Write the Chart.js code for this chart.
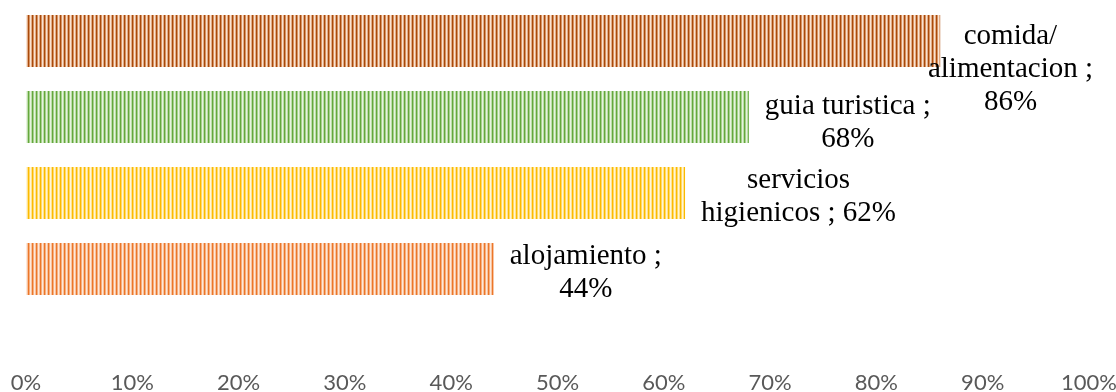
<!DOCTYPE html>
<html>
<head>
<meta charset="utf-8">
<script src="https://cdn.jsdelivr.net/npm/chart.js@4/dist/chart.umd.min.js"></script>
<style>
html,body{margin:0;padding:0;background:#fff;}
#wrap{width:1116px;height:392px;position:relative;}
</style>
</head>
<body>
<div id="wrap"><canvas id="c" width="1116" height="392"></canvas></div>
<script>
// Data
const categories = [["comida/", "alimentacion ;"], ["guia turistica ;"], ["servicios", "higienicos ;"], ["alojamiento ;"]];
const values = [86, 68, 62, 44];
const tickLabels = ["0%","10%","20%","30%","40%","50%","60%","70%","80%","90%","100%"];

// Styles
const palettes = [
  {dark:'#A9490A', mid:'#D07D43', light:'#F8E2D2'},
  {dark:'#64A83C', mid:'#96C878', light:'#E6F3DE'},
  {dark:'#FBBA00', mid:'#FFD24D', light:'#FFF5D6'},
  {dark:'#EC7628', mid:'#F4A068', light:'#FDE8DA'}
];
function stripe(p){
  const c = document.createElement('canvas');
  c.width = 4; c.height = 4;
  const x = c.getContext('2d');
  x.fillStyle = p.dark; x.fillRect(0,0,1.3,4);
  x.fillStyle = p.mid; x.fillRect(1.3,0,0.7,4);
  x.fillStyle = p.light; x.fillRect(2.0,0,1.4,4);
  x.fillStyle = p.mid; x.fillRect(3.4,0,0.6,4);
  return document.getElementById('c').getContext('2d').createPattern(c,'repeat');
}
const fills = palettes.map(stripe);

// label layout tweaks (vertical offsets relative to bar center)
const labelDy = [28, 6, 4, 4];
const labelGap = 16;
const labelFont = '29px "Liberation Serif", "Times New Roman", serif';
const lineH = 33;

const labelPlugin = {
  id:'barLabels',
  afterDatasetsDraw(chart){
    const ctx = chart.ctx;
    const meta = chart.getDatasetMeta(0);
    ctx.save();
    ctx.font = labelFont;
    ctx.fillStyle = '#000';
    ctx.textAlign = 'center';
    ctx.textBaseline = 'middle';
    meta.data.forEach((bar, i) => {
      const lines = categories[i].slice();
      const pct = values[i] + '%';
      let outLines;
      if (i === 2) { outLines = [lines[0], lines[1] + ' ' + pct]; }
      else { outLines = lines.concat([pct]); }
      const w = Math.max(...outLines.map(l => ctx.measureText(l).width));
      let cx = bar.x + labelGap + w/2;
      const maxRight = chart.width - 23;
      if (cx + w/2 > maxRight) cx = maxRight - w/2;
      const cy = bar.y + labelDy[i];
      const n = outLines.length;
      outLines.forEach((l, k) => {
        ctx.fillText(l, cx, cy + (k - (n-1)/2) * lineH);
      });
    });
    ctx.restore();
  }
};

new Chart(document.getElementById('c'), {
  type:'bar',
  data:{
    labels: categories.map(c => c.join(' ')),
    datasets:[{
      data: values,
      backgroundColor: fills,
      borderWidth: 0,
      categoryPercentage: 1,
      barPercentage: 0.684
    }]
  },
  options:{
    indexAxis:'y',
    responsive:false,
    animation:false,
    layout:{padding:{left:26, right:27, top:3, bottom:0}},
    plugins:{legend:{display:false}, tooltip:{enabled:false}},
    scales:{
      y:{display:false},
      x:{
        min:0, max:100,
        grid:{display:false, drawTicks:false},
        border:{display:false},
        ticks:{
          stepSize:10,
          padding:63,
          maxRotation:0,
          color:'#595959',
          font:{family:'Lato, "Open Sans", sans-serif', size:22},
          callback:(v, idx) => tickLabels[idx]
        },
        afterFit(scale){
          scale.paddingLeft = 0;
          scale.paddingRight = 0;
          scale.height = 85;
        }
      }
    }
  },
  plugins:[labelPlugin]
});
</script>
</body>
</html>
